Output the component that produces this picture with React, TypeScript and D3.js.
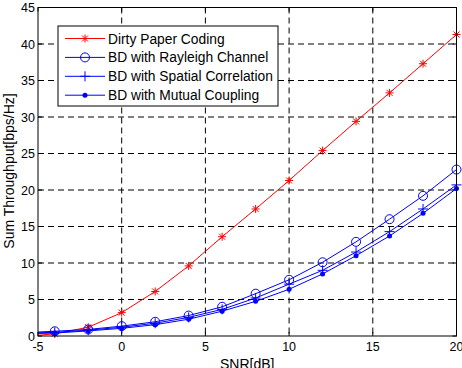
import React from "react";
import * as d3 from "d3";

const snr = [-4, -2, 0, 2, 4, 6, 8, 10, 12, 14, 16, 18, 20];
const dpc = [0.3, 1.2, 3.2, 6.1, 9.6, 13.6, 17.4, 21.3, 25.4, 29.4, 33.3, 37.3, 41.3];
const rayleigh = [0.65, 0.9, 1.35, 1.95, 2.8, 4.0, 5.8, 7.7, 10.1, 12.9, 16.0, 19.2, 22.8];
const spatial = [0.5, 0.8, 1.2, 1.75, 2.55, 3.65, 5.2, 7.1, 9.0, 11.5, 14.3, 17.4, 20.7];
const mutual = [0.4, 0.7, 1.05, 1.55, 2.3, 3.4, 4.75, 6.4, 8.5, 11.0, 13.7, 16.8, 20.2];
// value at the left axis edge (SNR = -5)
const startX = -5;
const startValues = [0.1, 0.55, 0.45, 0.35];

const legendLabels = [
  "Dirty Paper Coding",
  "BD with Rayleigh Channel",
  "BD with Spatial Correlation",
  "BD with Mutual Coupling",
];
const xTicks = [-5, 0, 5, 10, 15, 20];
const yTicks = [0, 5, 10, 15, 20, 25, 30, 35, 40, 45];

const RED = "#ff0000";
const BLUE = "#0000ff";

const W = 462, H = 368;
const L = 38, R = 456.5, T = 7.5, B = 336;

type MarkerKind = "star" | "circle" | "plus" | "dot";

function Marker({ kind, x, y, color }: { kind: MarkerKind; x: number; y: number; color: string }) {
  const s = 4;
  if (kind === "star") {
    const d = `M${x - s},${y}L${x + s},${y}M${x},${y - s}L${x},${y + s}M${x - 3},${y - 3}L${x + 3},${y + 3}M${x - 3},${y + 3}L${x + 3},${y - 3}`;
    return <path d={d} stroke={color} strokeWidth={1} fill="none" />;
  }
  if (kind === "circle") return <circle cx={x} cy={y} r={4.5} stroke={color} strokeWidth={1} fill="none" />;
  if (kind === "plus") {
    const d = `M${x - 5},${y}L${x + 5},${y}M${x},${y - 5}L${x},${y + 5}`;
    return <path d={d} stroke={color} strokeWidth={1} fill="none" />;
  }
  return <circle cx={x} cy={y} r={2.5} fill={color} stroke="none" />;
}

export default function App() {
  const x = d3.scaleLinear().domain([-5, 20]).range([L, R]);
  const y = d3.scaleLinear().domain([0, 45]).range([B, T]);
  const line = d3
    .line<[number, number]>()
    .x((d) => x(d[0]))
    .y((d) => y(d[1]));

  const series: { vals: number[]; color: string; kind: MarkerKind }[] = [
    { vals: dpc, color: RED, kind: "star" },
    { vals: rayleigh, color: BLUE, kind: "circle" },
    { vals: spatial, color: BLUE, kind: "plus" },
    { vals: mutual, color: BLUE, kind: "dot" },
  ];

  const font = "'Liberation Sans', Arial, sans-serif";

  return (
    <svg width={W} height={H} style={{ position: "absolute", left: 0, top: 0, background: "#fff" }} fontFamily={font}>
      <rect x={0} y={0} width={W} height={H} fill="#fff" />
      {/* grid */}
      {xTicks.slice(1, -1).map((t) => (
        <line key={"gx" + t} x1={x(t)} x2={x(t)} y1={T} y2={B} stroke="#000" strokeWidth={1} strokeDasharray="6,4" />
      ))}
      {yTicks.slice(1, -1).map((t) => (
        <line key={"gy" + t} x1={L} x2={R} y1={y(t)} y2={y(t)} stroke="#000" strokeWidth={1} strokeDasharray="6,4" />
      ))}
      {/* ticks */}
      {xTicks.map((t) => (
        <g key={"tx" + t}>
          <line x1={x(t)} x2={x(t)} y1={B} y2={B - 4} stroke="#000" />
          <line x1={x(t)} x2={x(t)} y1={T} y2={T + 4} stroke="#000" />
          <text x={x(t)} y={B + 15} fontSize={12.5} textAnchor="middle" fill="#000">{t}</text>
        </g>
      ))}
      {yTicks.map((t) => (
        <g key={"ty" + t}>
          <line x1={L} x2={L + 4} y1={y(t)} y2={y(t)} stroke="#000" />
          <line x1={R} x2={R - 4} y1={y(t)} y2={y(t)} stroke="#000" />
          <text x={L - 3} y={y(t) + 4.5} fontSize={12.5} textAnchor="end" fill="#000">{t}</text>
        </g>
      ))}
      {/* data */}
      {series.map((s, i) => {
        const pts: [number, number][] = [[startX, startValues[i]], ...snr.map((v, j) => [v, s.vals[j]] as [number, number])];
        return (
          <g key={"s" + i}>
            <path d={line(pts) || ""} stroke={s.color} strokeWidth={1} fill="none" />
            {snr.map((v, j) => (
              <Marker key={j} kind={s.kind} x={x(v)} y={y(s.vals[j])} color={s.color} />
            ))}
          </g>
        );
      })}
      {/* axes box */}
      <rect x={L} y={T} width={R - L} height={B - T} fill="none" stroke="#000" strokeWidth={1} />
      {/* legend */}
      <rect x={58} y={26} width={220} height={80} fill="#fff" stroke="#000" strokeWidth={1} />
      {legendLabels.map((lab, i) => {
        const ly = 38.5 + i * 18.9;
        const s = series[i];
        return (
          <g key={"lg" + i}>
            <line x1={65} x2={105} y1={ly} y2={ly} stroke={s.color} strokeWidth={1} />
            <Marker kind={s.kind} x={85} y={ly} color={s.color} />
            <text x={108} y={ly + 5} fontSize={13.8} fill="#000">{lab}</text>
          </g>
        );
      })}
      {/* axis labels */}
      <text x={(L + R) / 2} y={368.5} fontSize={14} textAnchor="middle" fill="#000">SNR[dB]</text>
      <text transform={`translate(13.5,171) rotate(-90)`} fontSize={14} textAnchor="middle" fill="#000">
        Sum Throughput[bps/Hz]
      </text>
    </svg>
  );
}
